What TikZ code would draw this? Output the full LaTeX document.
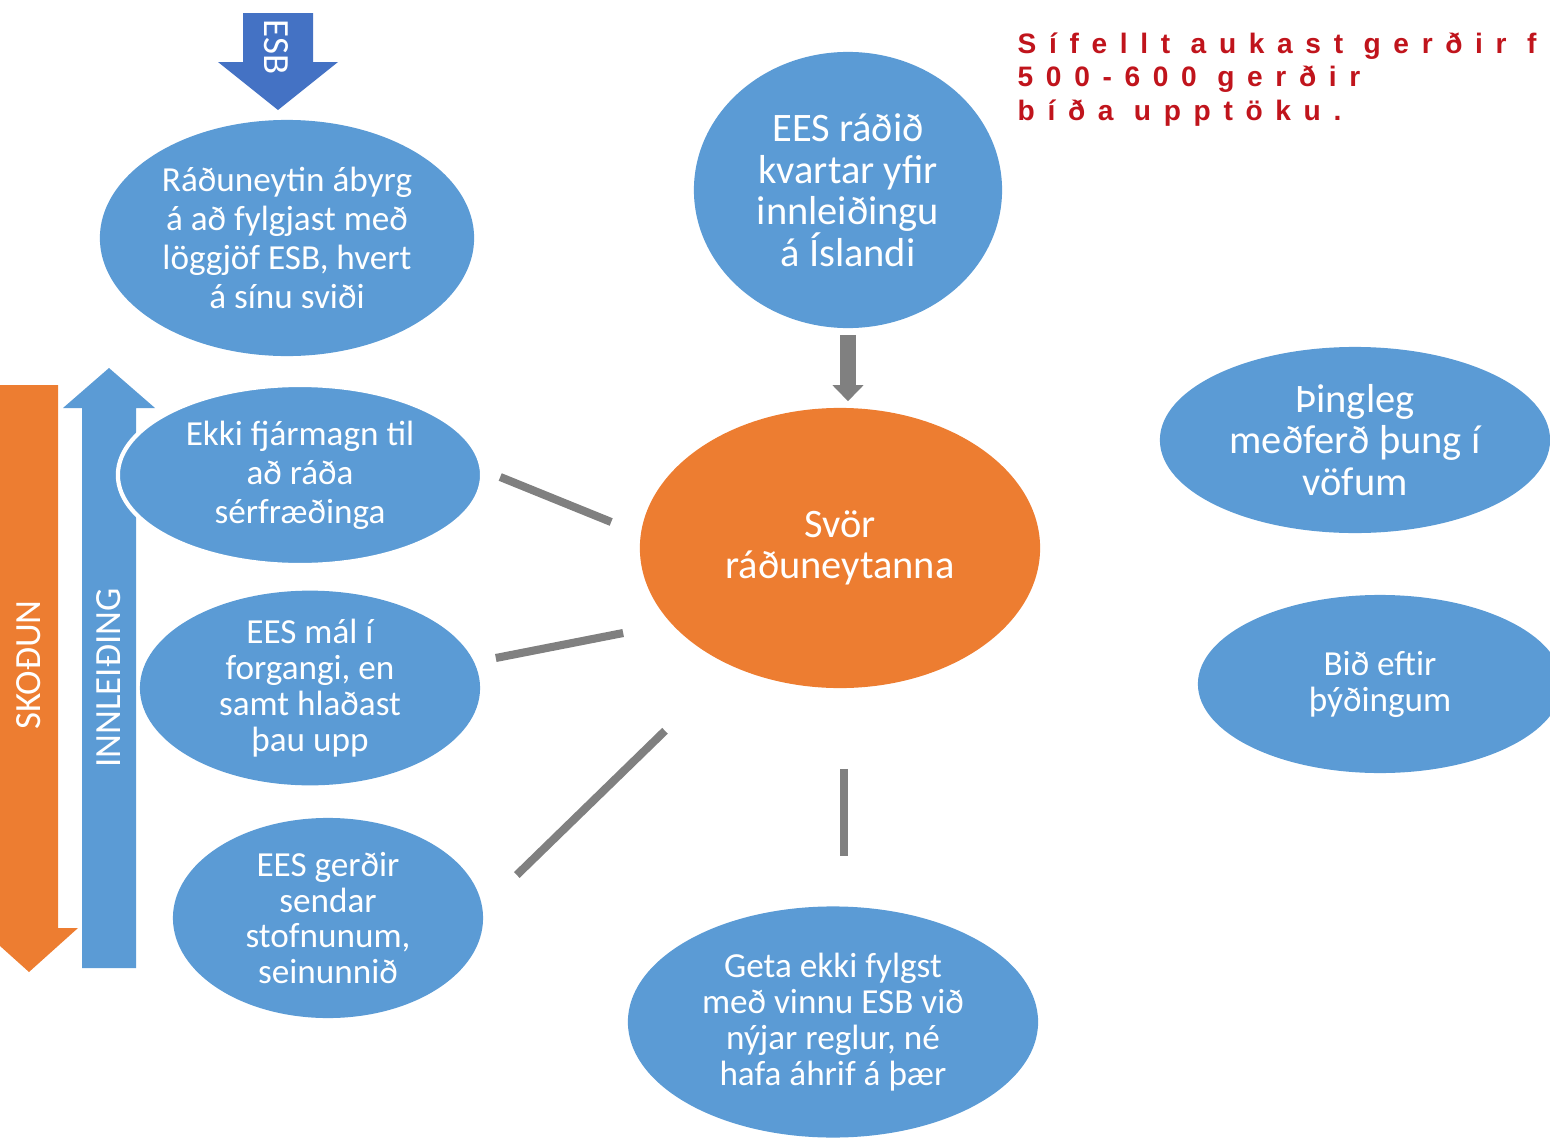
\documentclass[tikz,border=0pt]{standalone}
\usepackage{fontspec}
\setmainfont{Carlito}
\newfontfamily\notefont{Liberation Sans}[LetterSpace=45]
\usepackage{tikz}
\usetikzlibrary{shapes.geometric,arrows.meta}
\definecolor{eblue}{RGB}{91,155,213}
\definecolor{dblue}{RGB}{68,114,196}
\definecolor{eorange}{RGB}{237,125,49}
\definecolor{lgray}{RGB}{128,128,128}
\definecolor{dred}{RGB}{192,20,28}

\begin{document}
\begin{tikzpicture}[x=0.01cm,y=-0.01cm,
bubble/.style={ellipse,fill=eblue,text=white,inner sep=0pt,align=center,font=\fontsize{10}{10.2}\selectfont},
big/.style={font=\fontsize{11.5}{11.8}\selectfont},
link/.style={lgray,line width=2.3pt},
label/.style={text=white,font=\fontsize{10.5}{12}\selectfont}]
\useasboundingbox (0,0) rectangle (1550,1142);
\fill[eorange](0,385)--(58,385)--(58,928)--(78,928)--(29,972)--(-20,928)--(0,928)--cycle;
\node[label,rotate=90] (skodun) at (29,665) {SKOÐUN};
\fill[eblue](82,968)--(82,408)--(63,408)--(109,368)--(155,408)--(136,408)--(136,968)--cycle;
\node[label,rotate=90] (innleiding) at (109,678) {INNLEIÐING};
\fill[dblue](243,13)--(313,13)--(313,62)--(338,62)--(278,110)--(218,62)--(243,62)--cycle;
\node[label,rotate=-90] (esb) at (276,47) {ESB};
\node[bubble,minimum width=3.74cm,minimum height=2.36cm,font=\fontsize{10}{11.1}\selectfont] (radu) at (287,238) {Ráðuneytin ábyrg\\á að fylgjast með\\löggjöf ESB, hvert\\á sínu sviði};
\node[bubble,big,minimum width=3.08cm,minimum height=2.76cm] (eesrad) at (848,190) {EES ráðið\\kvartar yfir\\innleiðingu\\á Íslandi};
\node[bubble,big,fill=eorange,minimum width=4cm,minimum height=2.8cm] (svor) at (840,548) {Svör\\ráðuneytanna};
\node[bubble,big,minimum width=3.9cm,minimum height=1.86cm] (thingleg) at (1355,440) {Þingleg\\meðferð þung í\\vöfum};
\node[bubble,minimum width=3.64cm,minimum height=1.78cm] (bid) at (1380,684) {Bið eftir\\þýðingum};
\node[bubble,draw=white,line width=1.2pt,minimum width=3.64cm,minimum height=1.8cm,font=\fontsize{10}{11.1}\selectfont] (ekki) at (300,475) {Ekki fjármagn til\\að ráða\\sérfræðinga};
\node[bubble,minimum width=3.4cm,minimum height=1.87cm] (eesmal) at (310,688) {EES mál í\\forgangi, en\\samt hlaðast\\þau upp};
\node[bubble,minimum width=3.1cm,minimum height=2cm] (gerdir) at (328,918) {EES gerðir\\sendar\\stofnunum,\\seinunnið};
\node[bubble,minimum width=4.1cm,minimum height=2.31cm] (geta) at (833,1022) {Geta ekki fylgst\\með vinnu ESB við\\nýjar reglur, né\\hafa áhrif á þær};
\draw[lgray,line width=4.8pt,-{Triangle[width=0.3cm,length=0.16cm]},shorten <=0.06cm,shorten >=0.06cm](eesrad.south)--(eesrad.south|-svor.north);
\draw[link]([shift={(16,2)}]ekki.east)--([shift={(-28,-26)}]svor.west);
\draw[link]([shift={(15,-30)}]eesmal.east)--([shift={(-16,85)}]svor.west);
\draw[link]([shift={(33,-43)}]gerdir.east)--([shift={(-175,42)}]svor.south);
\draw[link]([shift={(4,80)}]svor.south)--([shift={(11,-50)}]geta.north);
\node[anchor=north west,inner sep=0pt,align=left,text=dred,font=\notefont\bfseries\fontsize{8}{9.5}\selectfont] (note) at (1017,32) {Sífellt aukast gerðir f\\500-600 gerðir\\bíða upptöku.};
\end{tikzpicture}
\end{document}
